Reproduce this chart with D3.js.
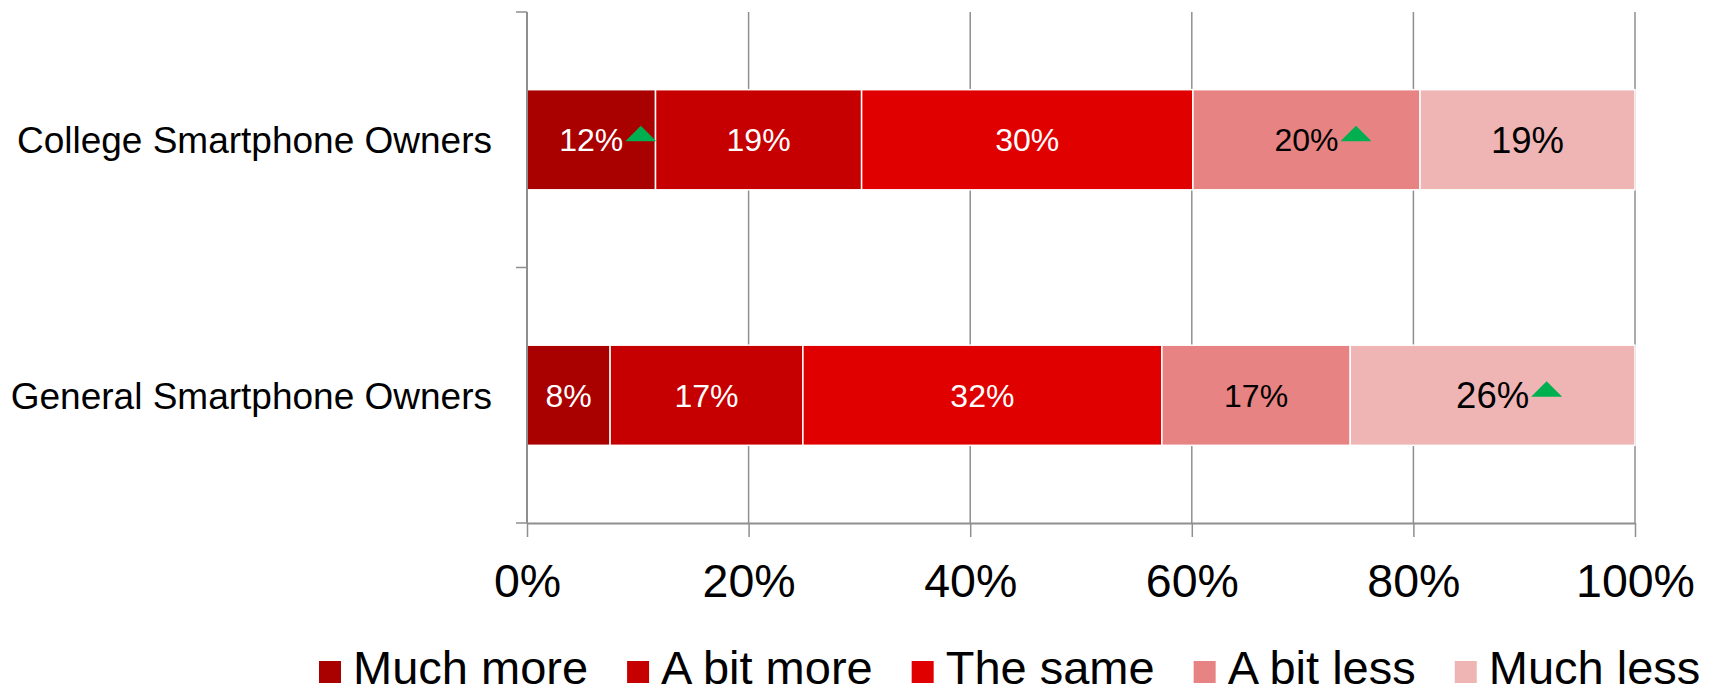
<!DOCTYPE html>
<html>
<head>
<meta charset="utf-8">
<script src="https://cdn.jsdelivr.net/npm/d3@7"></script>
<style>
  body { margin: 0; background: #fff; }
  svg { display: block; font-family: "Liberation Sans", Arial, sans-serif; }
</style>
</head>
<body>
<svg id="chart" width="1716" height="695"></svg>
<script>
const categories = ["College Smartphone Owners", "General Smartphone Owners"];
const seriesNames = ["Much more", "A bit more", "The same", "A bit less", "Much less"];
const seriesColors = ["#a90000", "#c60000", "#e10000", "#e78383", "#efb5b5"];
const labelColors = ["#fff", "#fff", "#fff", "#000", "#000"];

// shares in %; label = rounded value shown
const collegeValues = [11.6, 18.6, 29.9, 20.5, 19.4];
const generalValues = [7.5, 17.4, 32.4, 17.0, 25.7];
const collegeLabels = ["12%", "19%", "30%", "20%", "19%"];
const generalLabels = ["8%", "17%", "32%", "17%", "26%"];

// green "up" markers: [category index, series index]
const upMarkers = [[0, 0], [0, 3], [1, 4]];

const xTicks = [0, 20, 40, 60, 80, 100];

const values = [collegeValues, generalValues];
const labels = [collegeLabels, generalLabels];

const svg = d3.select("#chart");
const width = 1716;
const margin = { top: 12, right: 81, bottom: 172, left: 527 };
const plotBottom = 695 - margin.bottom;

const x = d3.scaleLinear().domain([0, 100]).range([margin.left, width - margin.right]);
const y = d3
  .scaleBand()
  .domain(categories)
  .range([margin.top, plotBottom])
  .paddingInner(0.608)
  .paddingOuter(0.304);

const gray = "#8f8f8f";

// vertical gridlines
svg
  .append("g")
  .selectAll("line")
  .data(xTicks)
  .join("line")
  .attr("x1", (d) => x(d))
  .attr("x2", (d) => x(d))
  .attr("y1", margin.top)
  .attr("y2", plotBottom)
  .attr("stroke", gray)
  .attr("stroke-width", 1.5);

// stacked bars
const stacked = categories.map((c, i) => {
  let acc = 0;
  return values[i].map((v, j) => {
    const seg = { cat: c, ci: i, si: j, x0: acc, x1: acc + v, label: labels[i][j] };
    acc += v;
    return seg;
  });
});
const segments = stacked.flat();

svg
  .append("g")
  .selectAll("rect")
  .data(segments)
  .join("rect")
  .attr("x", (d) => x(d.x0))
  .attr("y", (d) => y(d.cat))
  .attr("width", (d) => x(d.x1) - x(d.x0))
  .attr("height", y.bandwidth())
  .attr("fill", (d) => seriesColors[d.si])
  .attr("stroke", "#fff")
  .attr("stroke-width", 1.5);

// data labels (last series uses a bigger font)
const labelSel = svg
  .append("g")
  .selectAll("text")
  .data(segments)
  .join("text")
  .attr("x", (d) => (x(d.x0) + x(d.x1)) / 2)
  .attr("y", (d) => y(d.cat) + y.bandwidth() / 2)
  .attr("dy", "0.36em")
  .attr("text-anchor", "middle")
  .attr("font-size", (d) => (d.si === 4 ? 36.5 : 32))
  .attr("fill", (d) => labelColors[d.si])
  .text((d) => d.label);

// green up triangles next to flagged labels
const triW = 31;
const triH = 15.5;
labelSel.each(function (d) {
  const flagged = upMarkers.some(([ci, si]) => ci === d.ci && si === d.si);
  if (!flagged) return;
  const len = this.getComputedTextLength();
  const left = (x(d.x0) + x(d.x1)) / 2 + len / 2 + 2;
  const base = y(d.cat) + y.bandwidth() / 2 + 1.5;
  svg
    .append("path")
    .attr("d", `M${left},${base}L${left + triW},${base}L${left + triW / 2},${base - triH}Z`)
    .attr("fill", "#00b050");
});

// x axis
const xAxis = svg
  .append("g")
  .attr("transform", `translate(0,${plotBottom})`)
  .call(
    d3
      .axisBottom(x)
      .tickValues(xTicks)
      .tickSize(14)
      .tickSizeOuter(0)
      .tickFormat((d) => d + "%")
  );
xAxis.select(".domain").attr("stroke", gray).attr("stroke-width", 2.2);
xAxis.selectAll(".tick line").attr("stroke", gray).attr("stroke-width", 1.5);
xAxis
  .selectAll(".tick text")
  .attr("y", 74)
  .attr("dy", null)
  .attr("font-size", 46.5)
  .attr("fill", "#000")
  .attr("font-family", null);

// y axis line and band ticks
const step = y.step();
const bandEdges = d3.range(categories.length + 1).map((i) => margin.top + i * step);
svg
  .append("line")
  .attr("x1", margin.left)
  .attr("x2", margin.left)
  .attr("y1", margin.top)
  .attr("y2", plotBottom)
  .attr("stroke", gray)
  .attr("stroke-width", 2);
svg
  .append("g")
  .selectAll("line")
  .data(bandEdges)
  .join("line")
  .attr("x1", margin.left - 11)
  .attr("x2", margin.left)
  .attr("y1", (d) => d)
  .attr("y2", (d) => d)
  .attr("stroke", gray)
  .attr("stroke-width", 1.5);

// category labels
svg
  .append("g")
  .selectAll("text")
  .data(categories)
  .join("text")
  .attr("x", margin.left - 35)
  .attr("y", (d) => y(d) + y.bandwidth() / 2)
  .attr("dy", "0.36em")
  .attr("text-anchor", "end")
  .attr("font-size", 37)
  .attr("fill", "#000")
  .text((d) => d);

// legend (kept a few px above the bottom edge so descenders stay visible)
const legend = svg.append("g").attr("transform", "translate(319,0)");
let lx = 0;
seriesNames.forEach((name, i) => {
  legend
    .append("rect")
    .attr("x", lx)
    .attr("y", 661)
    .attr("width", 22)
    .attr("height", 22)
    .attr("fill", seriesColors[i]);
  const t = legend
    .append("text")
    .attr("x", lx + 34)
    .attr("y", 684)
    .attr("font-size", 47)
    .attr("fill", "#000")
    .text(name);
  lx += 34 + t.node().getComputedTextLength() + 39;
});
</script>
</body>
</html>
